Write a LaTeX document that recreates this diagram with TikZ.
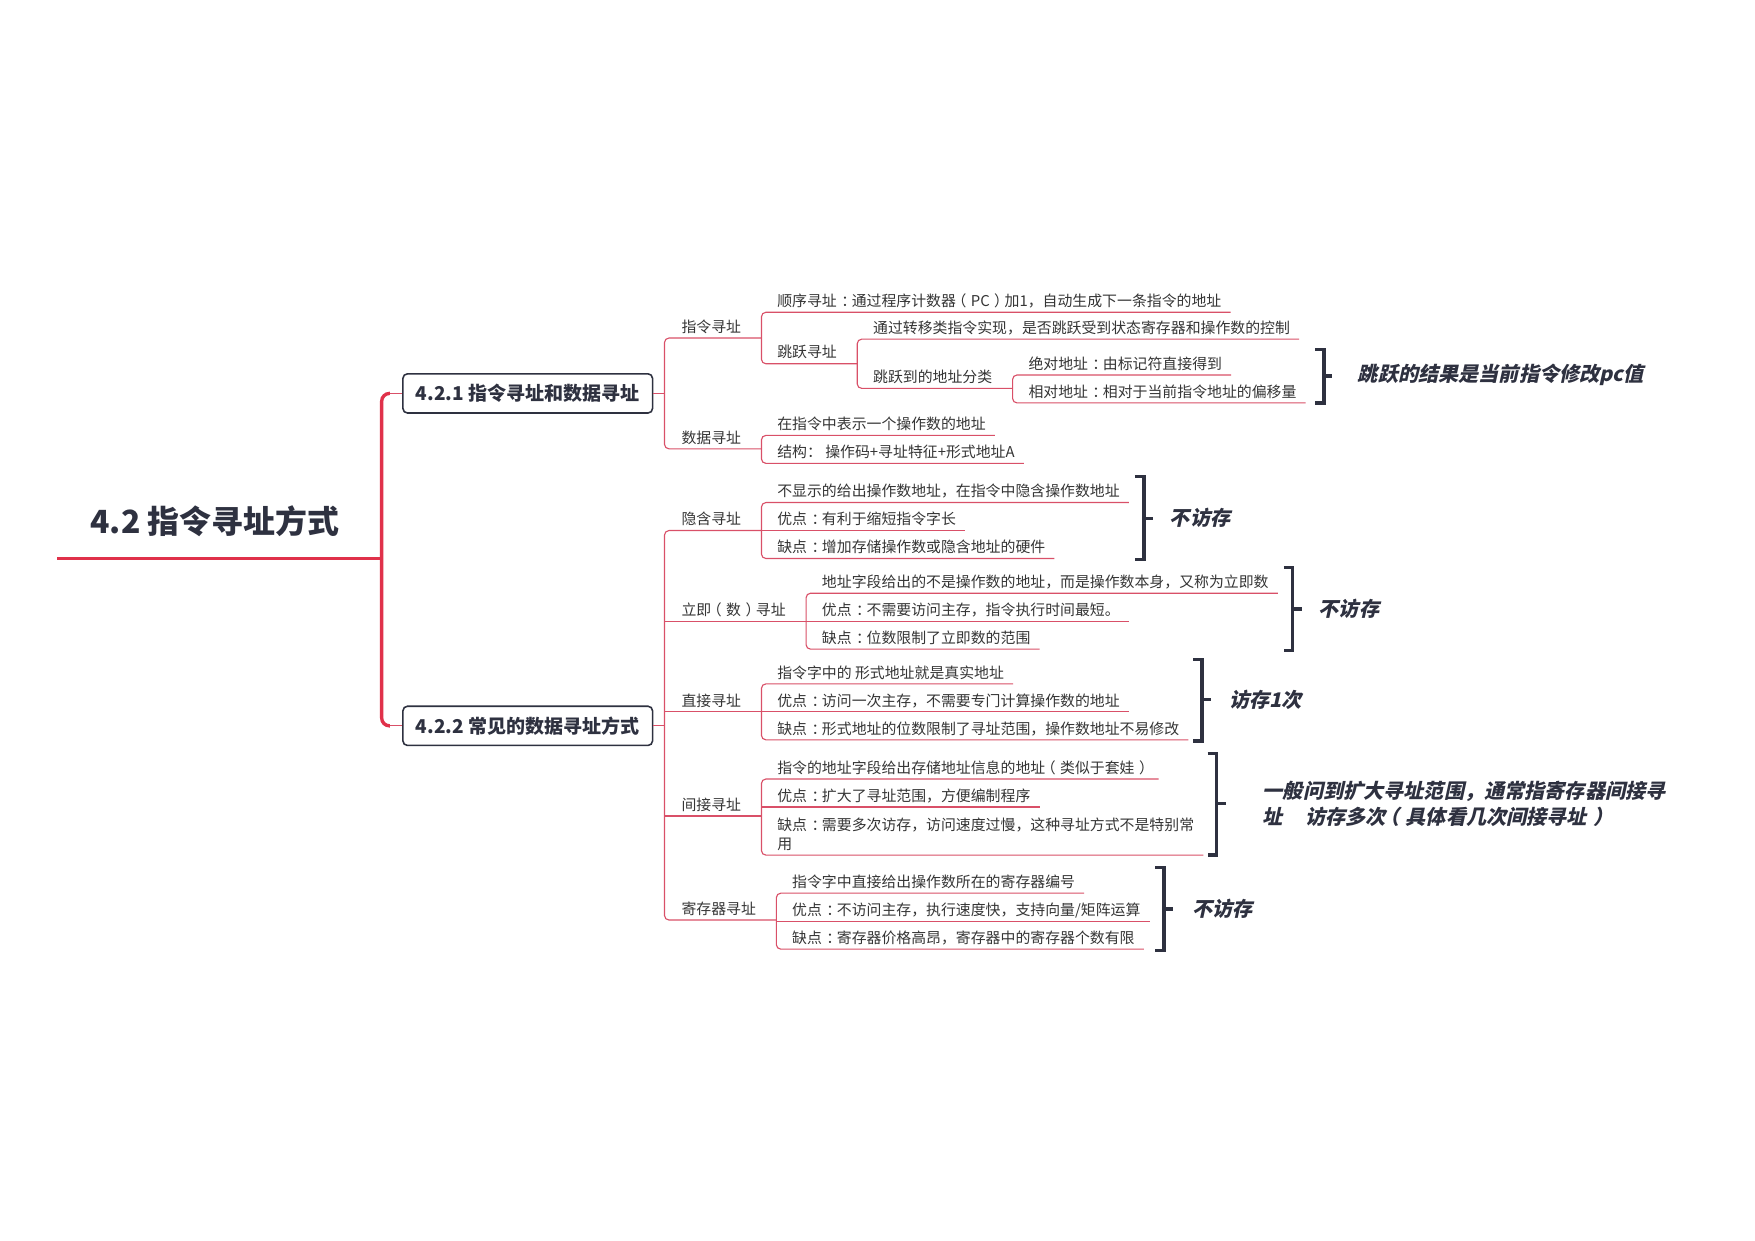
\documentclass[tikz,border=0pt]{standalone}
\usepackage{fontspec}
\setmainfont{Noto Sans CJK SC}
\newfontfamily\cjkslant{Noto Sans CJK SC}[FakeSlant=0.22]
\usetikzlibrary{calc}
\newcommand\zc{\kern0.3em：\kern-0.3em}
\newcommand\zl{\kern-0.3em（\kern0.3em}
\newcommand\zr{\kern0.3em）\kern-0.3em}
\definecolor{trunkred}{HTML}{E0314A}
\definecolor{linkred}{HTML}{D95068}
\definecolor{ink}{HTML}{2E3140}
\definecolor{leaftext}{HTML}{353535}
\begin{document}
\begin{tikzpicture}[x=1pt,y=-1pt,
  trunk/.style={draw=trunkred, line width=3pt},
  conn/.style={draw=linkred, line width=1pt, rounded corners=4pt},
  box/.style={draw=ink, line width=1.4pt, rounded corners=4pt, fill=white, minimum width=223pt, minimum height=35pt, inner sep=0pt, font=\fontsize{17}{19}\selectfont\bfseries, text=ink},
  txt/.style={anchor=south west, inner xsep=0pt, inner ysep=5pt, text depth=0pt, font=\fontsize{13.3}{17}\selectfont, text=leaftext},
  branch/.style={txt, execute at begin node={\hspace*{15pt}}, execute at end node={\hspace*{18pt}}},
  midnode/.style={txt, execute at begin node={\hspace*{14pt}}, execute at end node={\hspace*{18pt}}},
  leaf/.style={txt, execute at begin node={\hspace*{14pt}}, execute at end node={\hspace*{8pt}}},
  brk/.style={draw=ink, line width=3pt},
  remark/.style={anchor=west, inner sep=0pt, font=\cjkslant\fontsize{18}{23}\selectfont\bfseries, text=ink},
]
\fill[white] (0,0) rectangle (1568,1108);
\useasboundingbox (0,0) rectangle (1568,1108);

% root
\node[font=\fontsize{28.5}{31}\selectfont\bfseries, text=ink] (root) at (192,466) {4.2 指令寻址方式};
\coordinate (rl) at (51,499);
\coordinate (rr) at (333,499);
\draw[trunk] (rl) -- (rr);
\coordinate (tj) at (341,499);

% level 1 boxes
\node[box] (b1) at (471.5,351.5) {4.2.1 指令寻址和数据寻址};
\node[box] (b2) at (471.5,648.5) {4.2.2 常见的数据寻址方式};
\path (b1.west) ++(-11,0) coordinate (s1);
\path (b2.west) ++(-11,0) coordinate (s2);
\draw[trunk, rounded corners=7pt] (s1) -| (tj) |- (s2);
\draw[trunk] (rr) -- (tj);
\draw[conn] (s1) -- (b1.west);
\draw[conn] (s2) -- (b2.west);

% ---- 4.2.1 ----
\path (b1.east) ++(10,0) coordinate (j1);
\draw[conn] (b1.east) -- (j1);
\node[branch] (zl) at (j1 |- 0,302) {指令寻址};
\node[branch] (sj) at (j1 |- 0,401) {数据寻址};
\draw[conn] (zl.south east) -- (zl.south west) -- (sj.south west) -- (sj.south east);

\node[leaf] (sx) at (zl.south east |- 0,279) {顺序寻址\zc 通过程序计数器\zl PC\zr 加1，自动生成下一条指令的地址};
\node[midnode] (ty) at (zl.south east |- 0,325) {跳跃寻址};
\draw[conn] (sx.south east) -- (sx.south west) -- (ty.south west) -- (ty.south east);

\node[leaf] (tg) at (ty.south east |- 0,303) {通过转移类指令实现，是否跳跃受到状态寄存器和操作数的控制};
\node[midnode] (fl) at (ty.south east |- 0,347) {跳跃到的地址分类};
\draw[conn] (tg.south east) -- (tg.south west) -- (fl.south west) -- (fl.south east);

\node[leaf] (jd) at (fl.south east |- 0,335) {绝对地址\zc 由标记符直接得到};
\node[leaf] (xd) at (fl.south east |- 0,360) {相对地址\zc 相对于当前指令地址的偏移量};
\draw[conn] (jd.south east) -- (jd.south west) -- (xd.south west) -- (xd.south east);

\node[leaf] (sj1) at (sj.south east |- 0,389) {在指令中表示一个操作数的地址};
\node[leaf] (sj2) at (sj.south east |- 0,414) {结构： 操作码+寻址特征+形式地址A};
\draw[conn] (sj1.south east) -- (sj1.south west) -- (sj2.south west) -- (sj2.south east);

% ---- 4.2.2 ----
\path (b2.east) ++(10,0) coordinate (j2);
\draw[conn] (b2.east) -- (j2);
\node[branch] (yh) at (j2 |- 0,474) {隐含寻址};
\node[branch] (lj) at (j2 |- 0,555) {立即\zl 数\zr 寻址};
\node[branch] (zj) at (j2 |- 0,636) {直接寻址};
\node[branch] (jj) at (j2 |- 0,729) {间接寻址};
\node[branch] (jc) at (j2 |- 0,822) {寄存器寻址};
\draw[conn] (yh.south east) -- (yh.south west) -- (jc.south west) -- (jc.south east);
\draw[conn] (lj.south west) -- (lj.south east);
\draw[conn] (zj.south west) -- (zj.south east);
\draw[conn] (jj.south west) -- (jj.south east);

% 隐含寻址
\node[leaf] (yh1) at (yh.south east |- 0,449) {不显示的给出操作数地址，在指令中隐含操作数地址};
\node[leaf] (yh2) at (yh.south east |- 0,474) {优点\zc 有利于缩短指令字长};
\node[leaf] (yh3) at (yh.south east |- 0,499) {缺点\zc 增加存储操作数或隐含地址的硬件};
\draw[conn] (yh1.south east) -- (yh1.south west) -- (yh3.south west) -- (yh3.south east);
\draw[conn] (yh2.south west) -- (yh2.south east);

% 立即寻址
\node[leaf] (lj1) at (lj.south east |- 0,530) {地址字段给出的不是操作数的地址，而是操作数本身，又称为立即数};
\node[leaf] (lj2) at (lj.south east |- 0,555) {优点\zc 不需要访问主存，指令执行时间最短。};
\node[leaf] (lj3) at (lj.south east |- 0,580) {缺点\zc 位数限制了立即数的范围};
\draw[conn] (lj1.south east) -- (lj1.south west) -- (lj3.south west) -- (lj3.south east);
\draw[conn] (lj2.south west) -- (lj2.south east);

% 直接寻址
\node[leaf] (zj1) at (zj.south east |- 0,611) {指令字中的 形式地址就是真实地址};
\node[leaf] (zj2) at (zj.south east |- 0,636) {优点\zc 访问一次主存，不需要专门计算操作数的地址};
\node[leaf] (zj3) at (zj.south east |- 0,661) {缺点\zc 形式地址的位数限制了寻址范围，操作数地址不易修改};
\draw[conn] (zj1.south east) -- (zj1.south west) -- (zj3.south west) -- (zj3.south east);
\draw[conn] (zj2.south west) -- (zj2.south east);

% 间接寻址
\node[leaf] (jj1) at (jj.south east |- 0,696) {指令的地址字段给出存储地址信息的地址\zl 类似于套娃\zr};
\node[leaf] (jj2) at (jj.south east |- 0,721) {优点\zc 扩大了寻址范围，方便编制程序};
\node[txt, align=left] (jj3) at (jj.south east |- 0,764) {\hspace*{14pt}缺点\zc 需要多次访存，访问速度过慢，这种寻址方式不是特别常\hspace*{8pt}\\\hspace*{14pt}用};
\draw[conn] (jj1.south east) -- (jj1.south west) -- (jj3.south west) -- (jj3.south east);
\draw[conn] (jj2.south west) -- (jj2.south east);

% 寄存器寻址
\node[leaf] (jc1) at (jc.south east |- 0,798) {指令字中直接给出操作数所在的寄存器编号};
\node[leaf] (jc2) at (jc.south east |- 0,823) {优点\zc 不访问主存，执行速度快，支持向量/矩阵运算};
\node[leaf] (jc3) at (jc.south east |- 0,848) {缺点\zc 寄存器价格高昂，寄存器中的寄存器个数有限};
\draw[conn] (jc1.south east) -- (jc1.south west) -- (jc3.south west) -- (jc3.south east);
\draw[conn] (jc2.south west) -- (jc2.south east);

% brackets and remarks
\draw[brk] (1175,312) -- (1183,312) -- (1183,360) -- (1175,360);
\draw[brk] (1183,336) -- (1190,336);
\node[remark] (r1) at (1213,335) {跳跃的结果是当前指令修改pc值};

\draw[brk] (1014,426) -- (1022,426) -- (1022,500) -- (1014,500);
\draw[brk] (1022,463) -- (1030,463);
\node[remark] (r2) at (1045,463) {不访存};

\draw[brk] (1147,507) -- (1155,507) -- (1155,581) -- (1147,581);
\draw[brk] (1155,544) -- (1163,544);
\node[remark] (r3) at (1178,544) {不访存};

\draw[brk] (1066,589) -- (1074,589) -- (1074,662) -- (1066,662);
\draw[brk] (1074,625) -- (1082,625);
\node[remark] (r4) at (1098,625) {访存1次};

\draw[brk] (1079,673) -- (1087,673) -- (1087,764) -- (1079,764);
\draw[brk] (1087,718) -- (1095,718);
\node[remark, align=left] (r5) at (1128,718.5) {一般问到扩大寻址范围，通常指寄存器间接寻\\址\hspace{1.1em}访存多次\zl 具体看几次间接寻址\zr};

\draw[brk] (1032,775) -- (1040,775) -- (1040,849) -- (1032,849);
\draw[brk] (1040,812) -- (1048,812);
\node[remark] (r6) at (1065,812) {不访存};
\end{tikzpicture}
\end{document}
